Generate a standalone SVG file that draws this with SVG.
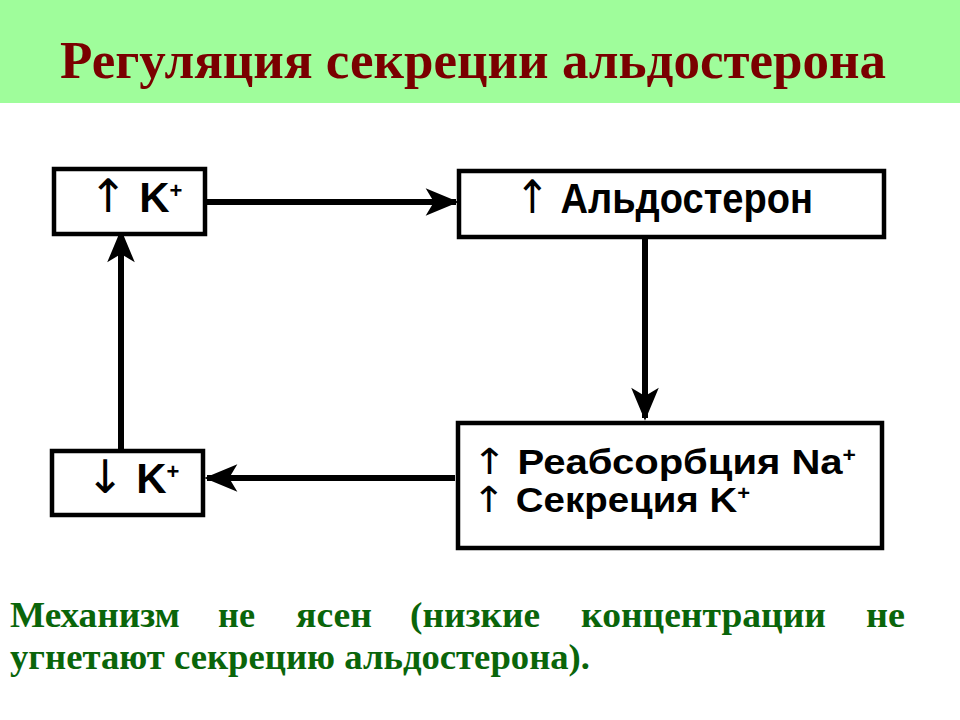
<svg xmlns="http://www.w3.org/2000/svg" width="960" height="720" viewBox="0 0 960 720">
<style>
.box{fill:#fff;stroke:#000;stroke-width:4.5}
.bt{font-family:"Liberation Sans",Arial,sans-serif;font-weight:bold;fill:#000}
.ar{font-family:"DejaVu Sans",sans-serif;font-weight:normal}
.conn{stroke:#000;stroke-width:6;fill:none}
.title{font-family:"Liberation Serif","Times New Roman",serif;font-weight:bold;fill:#7a0000}
.note{font-family:"Liberation Serif","Times New Roman",serif;font-weight:bold;fill:#0a650a;font-size:36px}
</style>
<defs>
<marker id="ah" viewBox="0 0 12 10" refX="11" refY="5" markerWidth="6" markerHeight="4.6" markerUnits="strokeWidth" orient="auto">
<path d="M0,0 L12,5 L0,10 L3,5 Z" fill="#000"/>
</marker>
</defs>
<rect x="0" y="0" width="960" height="720" fill="#fff"/>
<rect x="0" y="0" width="960" height="103" fill="#9ffd9b"/>
<text class="title" x="60" y="78" font-size="53" textLength="826" lengthAdjust="spacingAndGlyphs">Регуляция секреции альдостерона</text>

<g id="connectors">
<line class="conn" x1="207" y1="202" x2="456" y2="202" marker-end="url(#ah)"/>
<line class="conn" x1="645" y1="239" x2="645" y2="418" marker-end="url(#ah)"/>
<line class="conn" x1="455" y1="478" x2="207" y2="478" marker-end="url(#ah)"/>
<line class="conn" x1="121" y1="449" x2="121" y2="232" marker-end="url(#ah)"/>
</g>

<g id="n1">
<rect class="box" x="54" y="169" width="151" height="65"/>
<text class="bt" x="89" y="212" font-size="42"><tspan class="ar" font-size="46">↑</tspan> K<tspan font-size="22" dy="-14">+</tspan></text>
</g>
<g id="n2">
<rect class="box" x="459" y="171" width="425" height="66"/>
<text class="bt" x="515" y="213" font-size="42" textLength="298" lengthAdjust="spacingAndGlyphs"><tspan class="ar" font-size="46">↑</tspan> Альдостерон</text>
</g>
<g id="n3">
<rect class="box" x="458" y="423" width="424" height="125"/>
<text class="bt" x="472" y="474" font-size="35" textLength="384" lengthAdjust="spacingAndGlyphs"><tspan class="ar" font-size="36">↑</tspan> Реабсорбция Na<tspan font-size="20" dy="-12">+</tspan></text>
<text class="bt" x="472" y="512" font-size="35" textLength="278" lengthAdjust="spacingAndGlyphs"><tspan class="ar" font-size="36">↑</tspan> Секреция K<tspan font-size="20" dy="-12">+</tspan></text>
</g>
<g id="n4">
<rect class="box" x="52" y="451" width="151" height="64"/>
<text class="bt" x="86" y="493" font-size="42"><tspan class="ar" font-size="46">↓</tspan> K<tspan font-size="22" dy="-14">+</tspan></text>
</g>

<text class="note" y="627"><tspan x="10" textLength="170" lengthAdjust="spacingAndGlyphs">Механизм</tspan> <tspan x="218" textLength="37" lengthAdjust="spacingAndGlyphs">не</tspan> <tspan x="296" textLength="76" lengthAdjust="spacingAndGlyphs">ясен</tspan> <tspan x="410" textLength="130" lengthAdjust="spacingAndGlyphs">(низкие</tspan> <tspan x="581" textLength="245" lengthAdjust="spacingAndGlyphs">концентрации</tspan> <tspan x="866" textLength="39" lengthAdjust="spacingAndGlyphs">не</tspan></text>
<text class="note" x="10" y="669" textLength="580" lengthAdjust="spacingAndGlyphs">угнетают секрецию альдостерона).</text>
</svg>
